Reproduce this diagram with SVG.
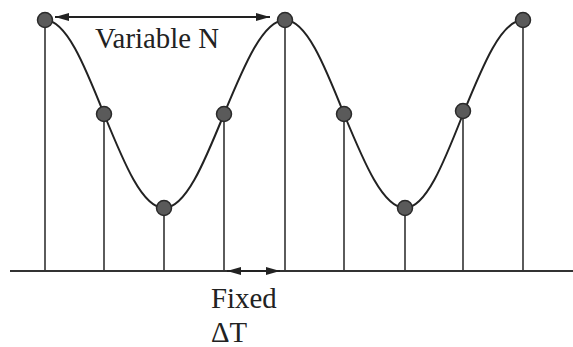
<svg xmlns="http://www.w3.org/2000/svg" width="573" height="347" viewBox="0 0 573 347">
<defs>
<marker id="ah" viewBox="0 0 14 8" refX="14" refY="4" markerWidth="14" markerHeight="8" markerUnits="userSpaceOnUse" orient="auto-start-reverse">
<path d="M0,0 L14,4 L0,8 Z" fill="#222"/>
</marker>
</defs>
<style>
.stem{stroke:#333;stroke-width:1.6;fill:none}
.curve{stroke:#222;stroke-width:2;fill:none}
.dot{fill:#5a5a5a;stroke:#2a2a2a;stroke-width:1.5}
.lbl{font-family:"Liberation Serif","Times New Roman",serif;font-size:28.8px;fill:#222}
.arr{stroke:#222;stroke-width:2;fill:none}
</style>
<rect width="573" height="347" fill="#fff"/>
<g id="axis">
<line class="stem" x1="10" y1="271" x2="573" y2="271" style="stroke-width:2.2"/>
</g>
<g id="connectors">
<line class="stem" x1="45" y1="20" x2="45" y2="271"/>
<line class="stem" x1="104" y1="114" x2="104" y2="271"/>
<line class="stem" x1="164" y1="208" x2="164" y2="271"/>
<line class="stem" x1="224" y1="114" x2="224" y2="271"/>
<line class="stem" x1="285" y1="20" x2="285" y2="271"/>
<line class="stem" x1="344" y1="114" x2="344" y2="271"/>
<line class="stem" x1="405" y1="208" x2="405" y2="271"/>
<line class="stem" x1="463" y1="114" x2="463" y2="271"/>
<line class="stem" x1="523" y1="20" x2="523" y2="271"/>
<path class="curve" d="M45,20 C66.1,20 84.3,64.6 104,114 C124.1,163.4 142.5,208 164,208 C185.5,208 203.9,163.4 224,114 C244.4,64.6 263.2,20 285,20 C306.1,20 324.3,64.6 344,114 C364.4,163.4 383.2,208 405,208 C425.8,208 443.6,163.4 463,114 C483.1,64.6 501.5,20 523,20"/>
<line class="arr" x1="55" y1="17" x2="270" y2="17" marker-start="url(#ah)" marker-end="url(#ah)"/>
<line class="arr" x1="227" y1="271" x2="280" y2="271" marker-start="url(#ah)" marker-end="url(#ah)"/>
</g>
<g id="n1"><circle class="dot" cx="45" cy="20" r="7.5"/></g>
<g id="n2"><circle class="dot" cx="104" cy="114" r="7.5"/></g>
<g id="n3"><circle class="dot" cx="164" cy="208" r="7.5"/></g>
<g id="n4"><circle class="dot" cx="224" cy="114" r="7.5"/></g>
<g id="n5"><circle class="dot" cx="285" cy="20" r="7.5"/></g>
<g id="n6"><circle class="dot" cx="344" cy="114" r="7.5"/></g>
<g id="n7"><circle class="dot" cx="405" cy="208" r="7.5"/></g>
<g id="n8"><circle class="dot" cx="463" cy="111" r="7.5"/></g>
<g id="n9"><circle class="dot" cx="523" cy="20" r="7.5"/></g>
<g id="labels">
<text class="lbl" x="95" y="48">Variable N</text>
<text class="lbl" x="211" y="308">Fixed</text>
<text class="lbl" x="211" y="342">ΔT</text>
</g>
</svg>
